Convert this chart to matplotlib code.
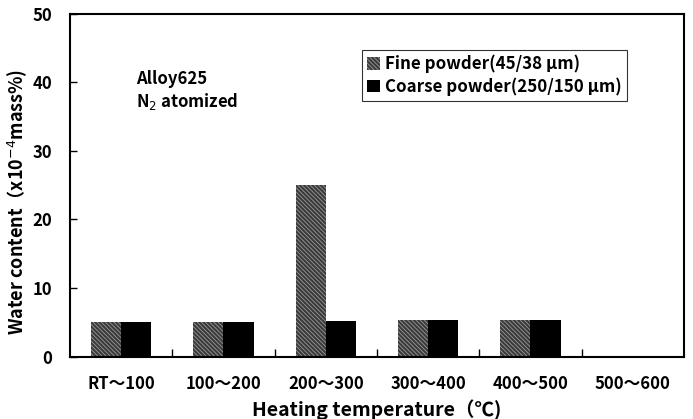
import numpy as np
import matplotlib
matplotlib.use("Agg")
from matplotlib import pyplot as plt
from matplotlib.patches import Patch

plt.rcParams['font.family'] = ['Noto Sans CJK JP', 'DejaVu Sans']
plt.rcParams['hatch.linewidth'] = 0.6

categories = ["RT〜100", "100〜200", "200〜300", "300〜400", "400〜500", "500〜600"]
fine = [5.0, 5.1, 25.0, 5.3, 5.3, 0]
coarse = [5.0, 5.1, 5.2, 5.3, 5.3, 0]
yticks = [0, 10, 20, 30, 40, 50]

fine_face = '#3a3a3a'
fine_hatch = '#9a9a9a'

fig = plt.figure(figsize=(6.93, 4.19), dpi=100)
ax = fig.add_axes([0.101, 0.149, 0.886, 0.818])

x = np.arange(len(categories))
w = 0.295
ax.bar(x - w/2, fine, w, color=fine_face, edgecolor=fine_hatch, hatch='\\\\\\\\\\\\\\\\', lw=0)
ax.bar(x + w/2, coarse, w, color='black', lw=0)

ax.set_xlim(-0.5, 5.5)
ax.set_ylim(0, 50)
ax.set_yticks(yticks)
ax.set_xticks(x)
ax.set_xticklabels(categories, fontsize=12, fontweight='bold')
ax.set_xticks(x[:-1] + 0.5, minor=True)
ax.tick_params(axis='x', which='major', length=0, pad=13)
ax.tick_params(axis='x', which='minor', direction='in', length=6, width=1)
ax.tick_params(axis='y', direction='in', length=5, width=1, pad=13, labelsize=12)
for t in ax.get_yticklabels():
    t.set_fontweight('bold')
for s in ax.spines.values():
    s.set_linewidth(1.5)

ax.set_ylabel("Water content（x10$^{-4}$mass%)", fontsize=13, fontweight='bold')
ax.yaxis.set_label_coords(-0.067, 0.45)
ax.set_xlabel("Heating temperature（℃)", fontsize=14, fontweight='bold', labelpad=5)

ax.text(0.108, 0.81, "Alloy625", transform=ax.transAxes, fontsize=12, fontweight='bold', va='center')
ax.text(0.108, 0.745, "N$_2$ atomized", transform=ax.transAxes, fontsize=12, fontweight='bold', va='center')

handles = [Patch(facecolor=fine_face, edgecolor=fine_hatch, hatch='\\\\\\\\\\\\\\\\', lw=0),
           Patch(facecolor='black', lw=0)]
labels = ["Fine powder(45/38 μm)", "Coarse powder(250/150 μm)"]
leg = ax.legend(handles, labels, loc='upper left', bbox_to_anchor=(0.4756, 0.895),
                fontsize=12.2, frameon=True, fancybox=False, edgecolor='black',
                handlelength=0.75, handleheight=0.75, handletextpad=0.3,
                borderpad=0.3, labelspacing=0.25, borderaxespad=0)
leg.get_frame().set_linewidth(0.8)
for t in leg.get_texts():
    t.set_fontweight('bold')

fig.savefig("out.png", dpi=100)
